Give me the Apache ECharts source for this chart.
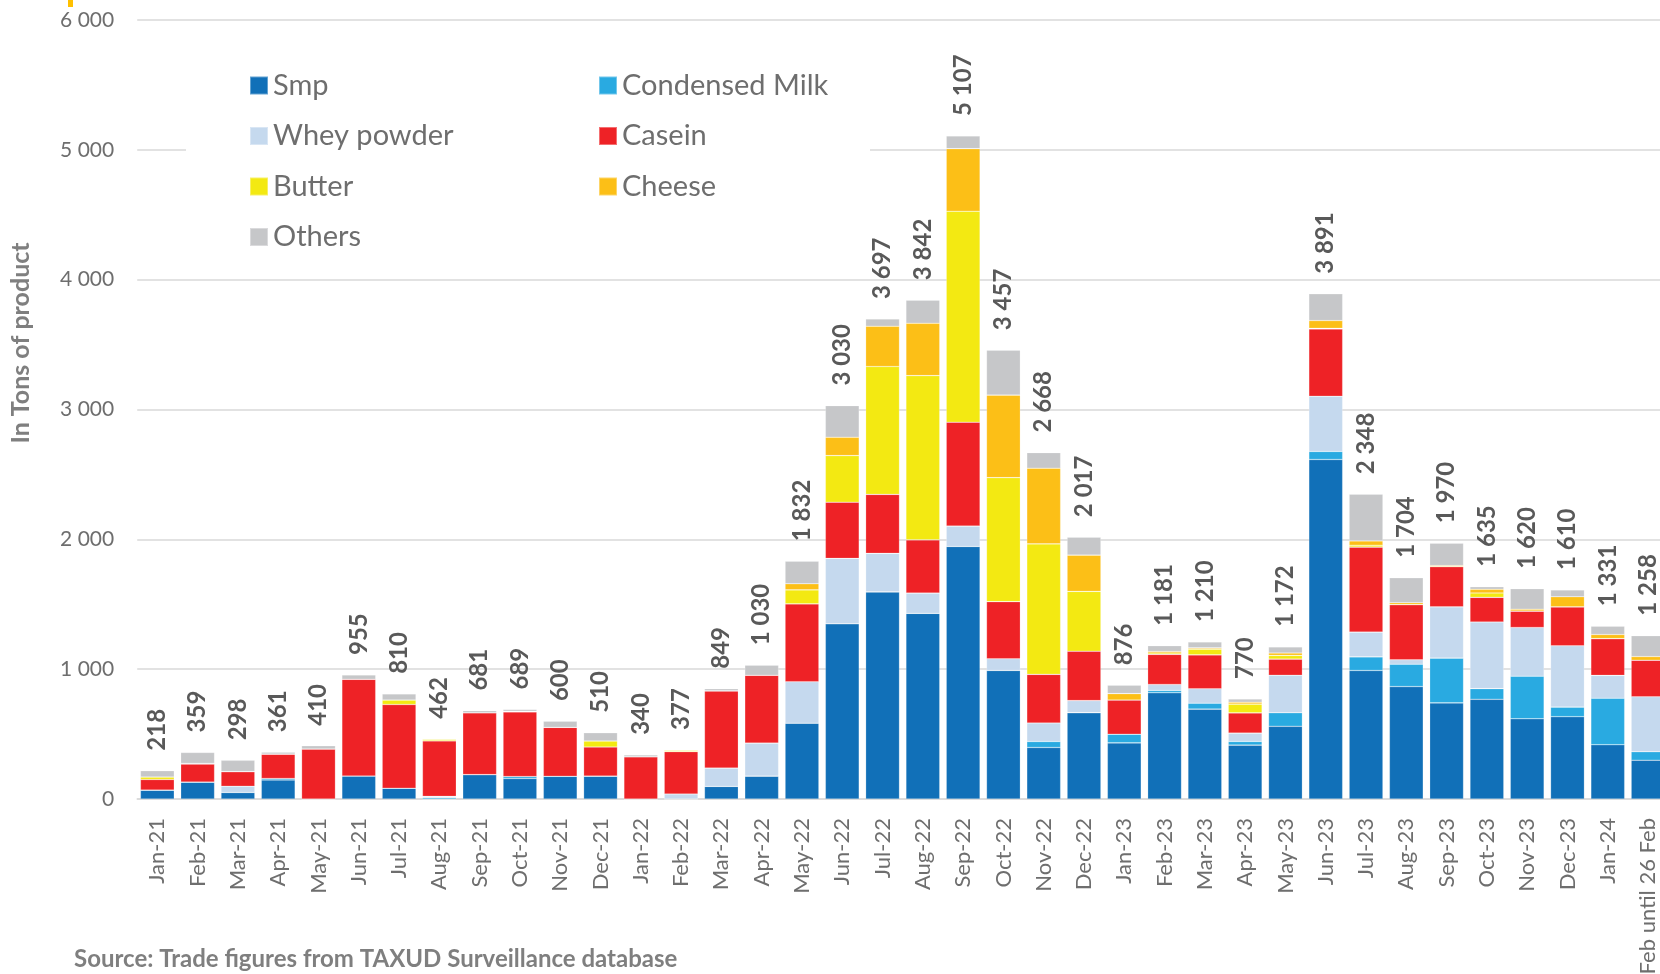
<!DOCTYPE html>
<html>
<head>
<meta charset="utf-8">
<script src="https://cdn.jsdelivr.net/npm/echarts@6/dist/echarts.min.js"></script>
<style>
html,body{margin:0;padding:0;background:#fff;}
#chart{width:1660px;height:974px;}
</style>
</head>
<body>
<div id="chart"></div>
<script>
const categories = ['Jan-21','Feb-21','Mar-21','Apr-21','May-21','Jun-21','Jul-21','Aug-21','Sep-21','Oct-21','Nov-21','Dec-21',
  'Jan-22','Feb-22','Mar-22','Apr-22','May-22','Jun-22','Jul-22','Aug-22','Sep-22','Oct-22','Nov-22','Dec-22',
  'Jan-23','Feb-23','Mar-23','Apr-23','May-23','Jun-23','Jul-23','Aug-23','Sep-23','Oct-23','Nov-23','Dec-23',
  'Jan-24','Feb until 26 Feb'];

const smp       = [68,130,50,146,0,177,83,0,188,158,175,176, 0,0,97,176,584,1350,1595,1430,1945,990,397,665, 432,818,692,415,560,2615,990,866,740,768,618,634, 418,299];
const condensed = [0,0,0,12,0,0,0,10,0,15,0,0, 0,0,0,0,0,0,0,0,0,0,46,0, 67,18,46,28,104,62,105,172,345,82,328,74, 358,65];
const whey      = [0,0,48,0,0,0,0,10,0,0,0,0, 0,38,141,254,319,503,297,156,157,90,142,93, 0,46,111,64,289,425,190,34,395,513,375,472, 176,423];
const casein    = [82,140,113,188,385,745,645,428,476,498,377,224, 325,327,595,523,600,433,454,410,800,440,375,380, 263,232,261,156,124,518,655,425,310,190,126,300, 283,282];
const butter    = [19,0,0,0,0,0,34,12,0,5,0,47, 0,10,0,0,108,359,985,1265,1625,955,1005,461, 0,10,44,68,29,5,15,0,0,34,0,0, 0,0];
const cheese    = [0,4,0,0,0,0,0,0,0,0,0,0, 0,0,0,0,47,141,310,403,482,636,583,279, 50,12,10,14,18,60,33,15,8,28,15,78, 32,28];
const others    = [49,85,87,15,25,33,48,2,17,13,48,63, 15,2,16,77,174,244,56,178,98,346,120,139, 64,45,46,25,48,206,360,192,172,20,158,52, 64,161];

const yTicks = [0,1000,2000,3000,4000,5000,6000];

const seriesDefs = [
  {name:'Smp', data:smp, color:'#1170B8'},
  {name:'Condensed Milk', data:condensed, color:'#29AAE1'},
  {name:'Whey powder', data:whey, color:'#C5D9EE'},
  {name:'Casein', data:casein, color:'#EE2226'},
  {name:'Butter', data:butter, color:'#F3E912'},
  {name:'Cheese', data:cheese, color:'#FCBF17'},
  {name:'Others', data:others, color:'#C6C7C9'}
];

const totals = categories.map((c,i)=>seriesDefs.reduce((s,d)=>s+d.data[i],0));
const fmt = n => String(n).replace(/\B(?=(\d{3})+(?!\d))/g,' ');

const FONT = 'Lato';
const GREY = '#6e6e6e';

const series = seriesDefs.map((d,idx)=>{
  const s = {
    name:d.name, type:'bar', stack:'total', data:d.data,
    barCategoryGap:'16%',
    itemStyle:{color:d.color, borderColor:'rgba(255,255,255,0.35)', borderWidth:0.6},
    emphasis:{disabled:true}
  };
  if (idx === seriesDefs.length-1) {
    s.label = {
      show:true, position:'top', rotate:90, align:'left', verticalAlign:'middle', distance:20,
      formatter:p=>fmt(totals[p.dataIndex]),
      fontFamily:FONT, fontWeight:'bold', fontSize:24, color:'#595959'
    };
  }
  return s;
});

const chart = echarts.init(document.getElementById('chart'), null, {renderer:'canvas'});
const legendCommon = {
  orient:'vertical', itemWidth:18, itemHeight:18, itemGap:20.5, itemTextGap:7,
  icon:'rect', padding:0, selectedMode:false,
  textStyle:{fontFamily:FONT, fontSize:29, color:GREY, lineHeight:30}
};
chart.setOption({
  animation:false,
  backgroundColor:'#fff',
  textStyle:{fontFamily:FONT},
  grid:{left:137.2, top:20, width:1531, bottom:175, containLabel:false, outerBoundsMode:'none'},
  legend:[
    Object.assign({}, legendCommon, {left:249, top:70.5, data:['Smp','Whey powder','Butter','Others']}),
    Object.assign({}, legendCommon, {left:598, top:70.5, data:['Condensed Milk','Casein','Cheese']})
  ],
  xAxis:{
    type:'category', data:categories,
    axisLine:{lineStyle:{color:'#d9d9d9', width:1.5}},
    axisTick:{show:false},
    axisLabel:{interval:0, rotate:90, margin:19, fontFamily:FONT, fontSize:22, color:GREY}
  },
  yAxis:{
    type:'value', min:yTicks[0], max:yTicks[yTicks.length-1], interval:1000,
    axisLine:{show:false}, axisTick:{show:false},
    splitLine:{lineStyle:{color:'#d9d9d9', width:1.5}},
    axisLabel:{margin:23, fontFamily:FONT, fontSize:21, color:GREY, formatter:v=>fmt(v)}
  },
  graphic:[
    {type:'rect', z:1, shape:{x:186, y:45, width:684, height:215}, style:{fill:'#ffffff'}},
    {type:'rect', z:1, shape:{x:68, y:0, width:5, height:7}, style:{fill:'#FFC000'}},
    {type:'text', z:5, x:21, y:343, rotation:Math.PI/2,
     style:{text:'In Tons of product', fontFamily:FONT, fontWeight:'bold', fontSize:25, fill:'#7f7f7f', align:'center', verticalAlign:'middle'}},
    {type:'text', z:5, x:74, y:959,
     style:{text:'Source: Trade figures from TAXUD Surveillance database', fontFamily:FONT, fontWeight:'bold', fontSize:24, fill:'#7f7f7f', align:'left', verticalAlign:'middle'}}
  ],
  series:series
});
</script>
</body>
</html>
